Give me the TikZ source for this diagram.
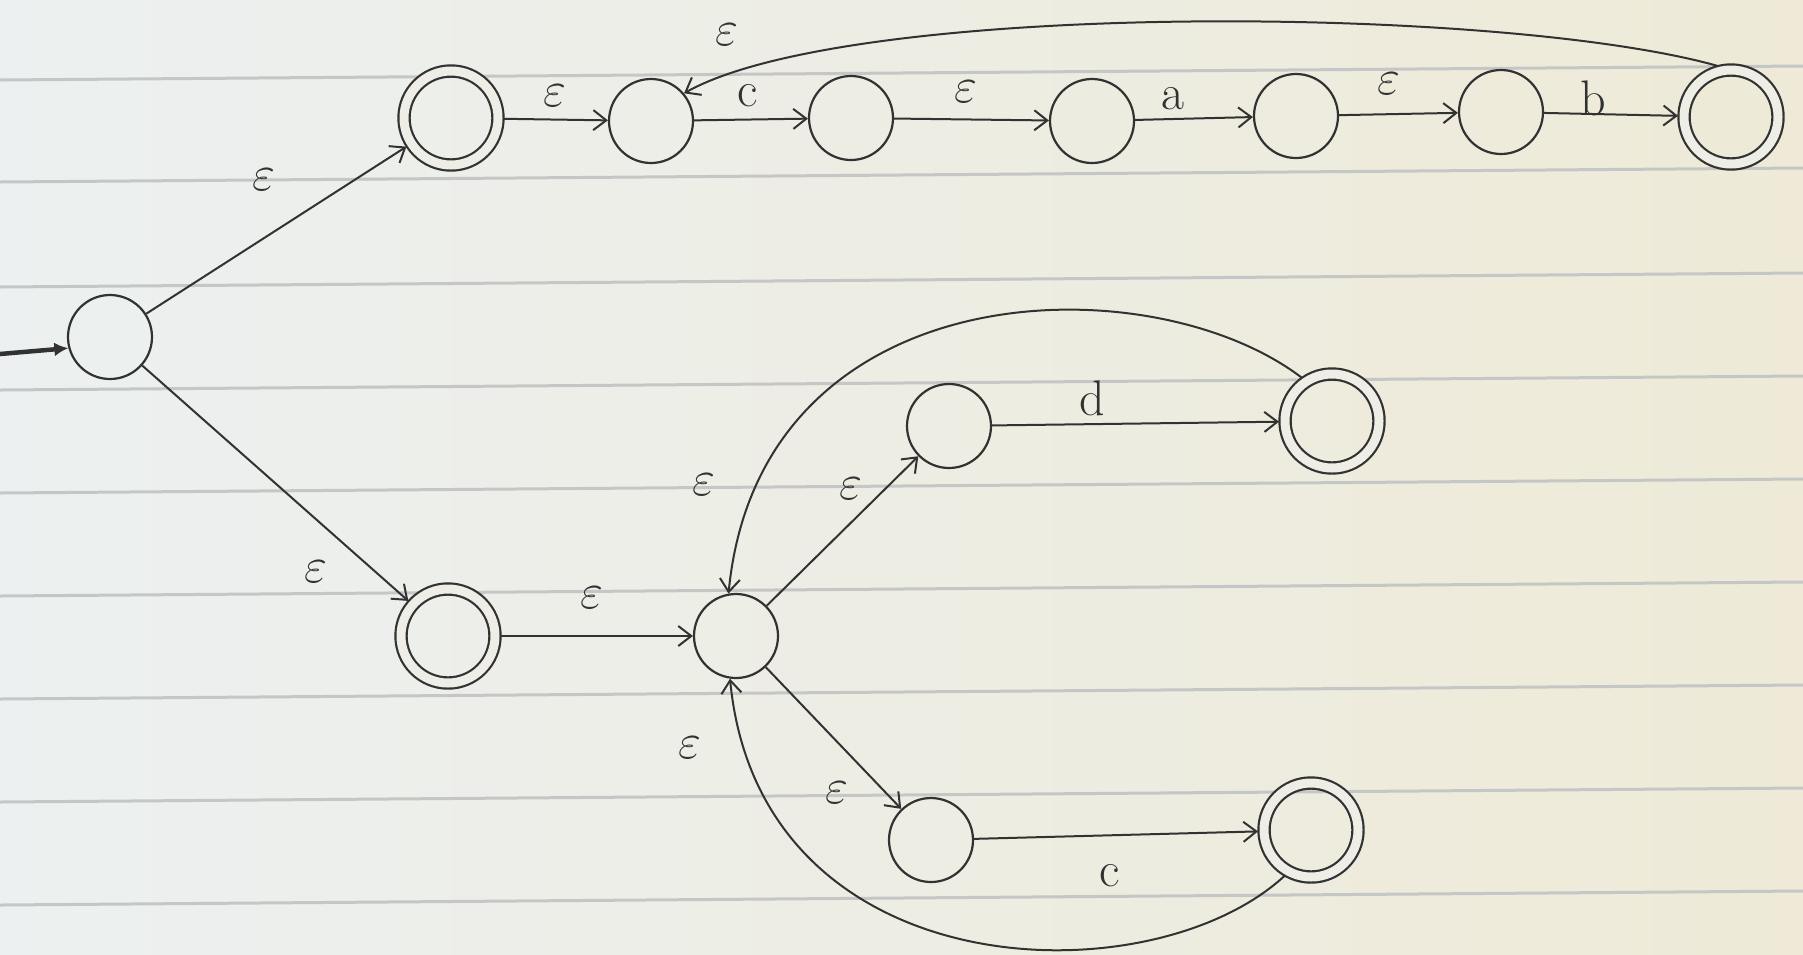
\documentclass[tikz,border=0pt]{standalone}
\usepackage{fix-cm}
\usetikzlibrary{arrows.meta}
\definecolor{ink}{RGB}{50,50,50}
\definecolor{paper}{RGB}{238,238,230}
\definecolor{paperL}{RGB}{236,240,240}
\definecolor{paperR}{RGB}{238,234,215}
\definecolor{rulec}{RGB}{196,199,197}
\begin{document}
\begin{tikzpicture}[x=1pt,y=-1pt,
  st/.style={circle,draw=ink,line width=2.2pt,minimum size=84pt,inner sep=0pt},
  acc/.style={circle,draw=ink,line width=2.2pt,double=paper,double distance=9pt,minimum size=94pt,inner sep=0pt,outer sep=6pt},
  tr/.style={draw=ink,line width=2pt,-{Straight Barb[length=13pt,width=20pt]}},
  lab/.style={text=ink,font=\fontsize{50}{56}\selectfont,inner sep=0pt},
  ruleline/.style={draw=rulec,line width=3pt}]
% paper
\shade[left color=paperL,right color=paperR] (0,0) rectangle (1803,954);
\useasboundingbox (0,0) rectangle (1803,954);
\foreach \yy in {80,182,287,390,493,596,699,802,905}{
  \draw[ruleline] (0,\yy) -- (1803,\yy-14);
}
% states
\node[st]  (q0)  at (110,337) {};
\node[acc] (A1)  at (451,118) {};
\node[st]  (q2)  at (651,121) {};
\node[st]  (q3)  at (851,118) {};
\node[st]  (q4)  at (1092,121) {};
\node[st]  (q5)  at (1296,116) {};
\node[st]  (q6)  at (1501,112) {};
\node[acc] (F1)  at (1731,117) {};
\node[acc] (Bd)  at (448,636) {};
\node[st]  (hub) at (736,636) {};
\node[st]  (up)  at (949,426) {};
\node[acc] (upF) at (1332,421) {};
\node[st]  (low) at (931,840) {};
\node[acc] (lowF) at (1311,830) {};
% start arrow
\coordinate (s) at (0,354);
\draw[draw=ink,line width=4.5pt,-{Latex[length=14pt,width=14pt]}] (s) -- (q0.195);
% transitions
\draw[tr] (q0) -- (A1);
\draw[tr] (q0) -- (Bd);
\draw[tr] (A1) -- (q2);
\draw[tr] (q2) -- (q3);
\draw[tr] (q3) -- (q4);
\draw[tr] (q4) -- (q5);
\draw[tr] (q5) -- (q6);
\draw[tr] (q6) -- (F1);
\draw[tr] (Bd) -- (hub);
\draw[tr] (hub) -- (up);
\draw[tr] (hub) -- (low);
\draw[tr] (up) -- (upF);
\draw[tr] (low) -- (lowF);
% loops
\draw[tr] (F1.105) .. controls (1500,5) and (850,0) .. (q2.40);
\draw[tr] (upF.125) .. controls (1150,262) and (760,270) .. (hub.100);
\draw[tr] (lowF.240) .. controls (1150,1000) and (760,990) .. (hub.262);
% labels
\node[lab] (l1) at (264,180) {$\varepsilon$};
\node[lab] (l2) at (555,96) {$\varepsilon$};
\node[lab] (l3) at (748,96) {c};
\node[lab] (l4) at (966,92) {$\varepsilon$};
\node[lab] (l5) at (1173,99) {a};
\node[lab] (l6) at (1389,84) {$\varepsilon$};
\node[lab] (l7) at (1593,98) {b};
\node[lab] (l8) at (727,35) {$\varepsilon$};
\node[lab] (l9) at (316,572) {$\varepsilon$};
\node[lab] (l10) at (592,598) {$\varepsilon$};
\node[lab] (l11) at (704,485) {$\varepsilon$};
\node[lab] (l12) at (851,489) {$\varepsilon$};
\node[lab] (l13) at (1092,398) {d};
\node[lab] (l14) at (690,748) {$\varepsilon$};
\node[lab] (l15) at (837,793) {$\varepsilon$};
\node[lab] (l16) at (1110,876) {c};
\end{tikzpicture}
\end{document}
